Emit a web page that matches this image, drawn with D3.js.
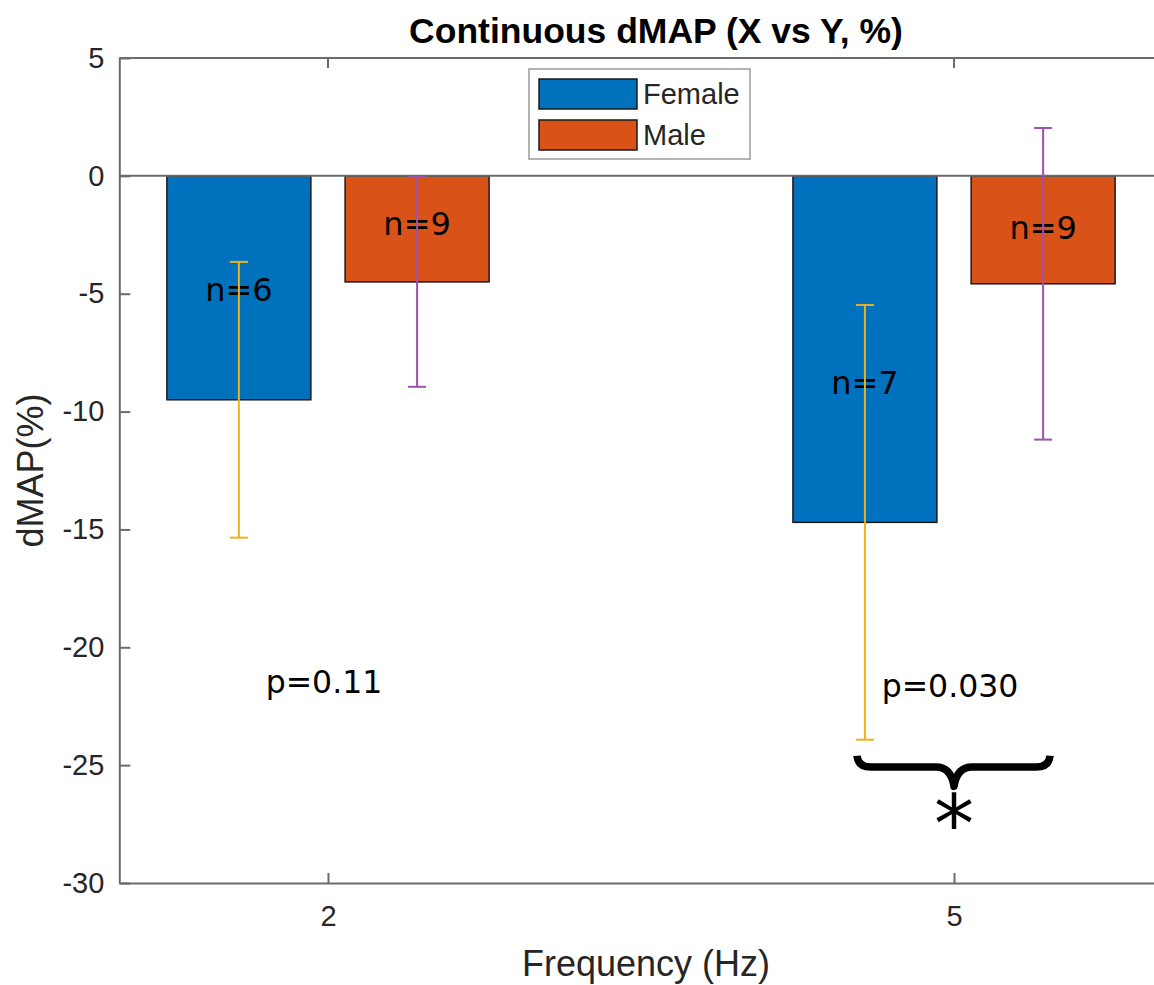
<!DOCTYPE html>
<html>
<head>
<meta charset="utf-8">
<script src="https://cdn.jsdelivr.net/npm/d3@7"></script>
<style>
  html, body { margin: 0; padding: 0; background: #fff; }
  svg { display: block; }
</style>
</head>
<body>
<svg id="chart" width="1154" height="985"></svg>
<script>
// ---------------- data ----------------
const frequencies = [2, 5];
const groups = ["Female", "Male"];
const femaleMeans = [-9.5, -14.7];
const maleMeans = [-4.5, -4.58];
const femaleErr = [5.85, 9.22];
const maleErr = [4.45, 6.61];
const femaleN = ["n=6", "n=7"];
const maleN = ["n=9", "n=9"];
const femaleLabelY = [-4.84, -8.78];
const maleLabelY = [-2.04, -2.17];
const pValues = ["p=0.11", "p=0.030"];
const pLabelY = [-21.47, -21.62];
const yTicks = [5, 0, -5, -10, -15, -20, -25, -30];
const xTicks = [2, 5];
const signifIndex = 1; // brace + asterisk under 5 Hz group
const braceSpan = [-0.465, 0.46];   // relative to group x (data units)
const braceY = [-24.6, -25.08, -25.9]; // ends, horizontal, tip
const asteriskY = -28.7;

// ---------------- layout ----------------
const colors = { Female: "#0072BD", Male: "#D95319" };
const errColors = { Female: "#EDB120", Male: "#9E52B0" };
const axisColor = "#6b6b6b";
const textColor = "#262626";

const svg = d3.select("#chart");
const x = d3.scaleLinear().domain([1, 6]).range([119.3, 1162.7]);
const y = d3.scaleLinear().domain([-30, 5]).range([883, 58]);

const barOffset = 0.427;  // data units
const barWidth = 0.69;    // data units
const capHalf = 9;        // px

const series = [
  { name: "Female", means: femaleMeans, err: femaleErr, n: femaleN, ly: femaleLabelY, off: -barOffset },
  { name: "Male", means: maleMeans, err: maleErr, n: maleN, ly: maleLabelY, off: barOffset }
];

// axes box lines
const [x0, x1] = x.range();
const [yb, yt] = y.range();
svg.append("line").attr("x1", x0).attr("x2", x1).attr("y1", yt).attr("y2", yt)
  .attr("stroke", axisColor).attr("stroke-width", 2);

// bars
series.forEach(s => {
  svg.append("g").selectAll("rect")
    .data(frequencies.map((f, i) => ({ f, v: s.means[i] })))
    .join("rect")
    .attr("x", d => x(d.f + s.off - barWidth / 2))
    .attr("width", d => x(d.f + s.off + barWidth / 2) - x(d.f + s.off - barWidth / 2))
    .attr("y", d => y(Math.max(0, d.v)))
    .attr("height", d => Math.abs(y(d.v) - y(0)))
    .attr("fill", colors[s.name])
    .attr("stroke", "#1a1a1a")
    .attr("stroke-width", 1.5);
});

// baseline at zero
svg.append("line").attr("x1", x0).attr("x2", x1).attr("y1", y(0)).attr("y2", y(0))
  .attr("stroke", axisColor).attr("stroke-width", 2);

// n labels
series.forEach(s => {
  svg.append("g").selectAll("text")
    .data(frequencies.map((f, i) => ({ f, t: s.n[i], ly: s.ly[i] })))
    .join("text")
    .attr("x", d => x(d.f + s.off))
    .attr("y", d => y(d.ly))
    .attr("dy", "0.36em")
    .attr("text-anchor", "middle")
    .attr("font-family", "DejaVu Sans")
    .attr("font-size", 32)
    .attr("fill", "#000")
    .text(d => d.t);
});

// error bars
series.forEach(s => {
  const g = svg.append("g").attr("stroke", errColors[s.name]).attr("stroke-width", 2).attr("fill", "none");
  frequencies.forEach((f, i) => {
    const cx = x(f + s.off);
    const hi = y(s.means[i] + s.err[i]);
    const lo = y(s.means[i] - s.err[i]);
    g.append("line").attr("x1", cx).attr("x2", cx).attr("y1", hi).attr("y2", lo);
    g.append("line").attr("x1", cx - capHalf).attr("x2", cx + capHalf).attr("y1", hi).attr("y2", hi);
    g.append("line").attr("x1", cx - capHalf).attr("x2", cx + capHalf).attr("y1", lo).attr("y2", lo);
  });
});

// p-value labels
svg.append("g").selectAll("text")
  .data(frequencies.map((f, i) => ({ f, t: pValues[i], py: pLabelY[i] })))
  .join("text")
  .attr("x", d => x(d.f) - 4)
  .attr("y", d => y(d.py))
  .attr("dy", "0.36em")
  .attr("text-anchor", "middle")
  .attr("font-family", "DejaVu Sans")
  .attr("font-size", 31.5)
  .attr("fill", "#000")
  .text(d => d.t);

// brace
{
  const gx = frequencies[signifIndex];
  const xl = x(gx + braceSpan[0]), xr = x(gx + braceSpan[1]), xm = x(gx);
  const yEnd = y(braceY[0]), yH = y(braceY[1]), yTip = y(braceY[2]);
  const p = d3.path();
  p.moveTo(xl, yEnd);
  p.quadraticCurveTo(xl + 1, yH, xl + 14, yH);
  p.lineTo(xm - 18, yH);
  p.quadraticCurveTo(xm - 3, yH, xm, yTip);
  p.quadraticCurveTo(xm + 3, yH, xm + 18, yH);
  p.lineTo(xr - 14, yH);
  p.quadraticCurveTo(xr - 1, yH, xr, yEnd);
  svg.append("path").attr("d", p.toString())
    .attr("fill", "none").attr("stroke", "#000").attr("stroke-width", 7.5)
    .attr("stroke-linejoin", "round").attr("stroke-linecap", "butt");
  svg.append("text")
    .attr("x", xm)
    .attr("y", y(asteriskY))
    .attr("text-anchor", "middle")
    .attr("font-family", "DejaVu Sans")
    .attr("font-size", 80)
    .attr("fill", "#000")
    .text("*");
}

// Y axis
const yAxis = d3.axisLeft(y).tickValues(yTicks).tickSize(0).tickPadding(15).tickFormat(d3.format("d"));
const yg = svg.append("g").attr("transform", `translate(${x0},0)`).call(yAxis);
yg.select(".domain").attr("stroke", axisColor).attr("stroke-width", 2);
yg.selectAll(".tick text").attr("font-family", "Liberation Sans, Arial, sans-serif")
  .attr("font-size", 29).attr("fill", textColor).text(d => d < 0 ? "-" + Math.abs(d) : d);
yg.selectAll(".tick").append("line").attr("x1", 0).attr("x2", 11)
  .attr("stroke", axisColor).attr("stroke-width", 2);

// X axis
const xAxis = d3.axisBottom(x).tickValues(xTicks).tickSize(0).tickPadding(22).tickFormat(d3.format("d"));
const xg = svg.append("g").attr("transform", `translate(0,${yb})`).call(xAxis);
xg.select(".domain").attr("stroke", axisColor).attr("stroke-width", 2);
xg.selectAll(".tick text").attr("font-family", "Liberation Sans, Arial, sans-serif")
  .attr("font-size", 29).attr("fill", textColor);
xg.selectAll(".tick").append("line").attr("y1", 0).attr("y2", -10)
  .attr("stroke", axisColor).attr("stroke-width", 2);
// top mirrored ticks
svg.append("g").selectAll("line").data(xTicks).join("line")
  .attr("x1", d => x(d)).attr("x2", d => x(d)).attr("y1", yt).attr("y2", yt + 10)
  .attr("stroke", axisColor).attr("stroke-width", 2);

// axis labels
svg.append("text")
  .attr("x", 646).attr("y", 976)
  .attr("text-anchor", "middle")
  .attr("font-family", "Liberation Sans, Arial, sans-serif")
  .attr("font-size", 36).attr("fill", textColor)
  .text("Frequency (Hz)");
svg.append("text")
  .attr("transform", `translate(43,${(y(-10) + y(-15)) / 2}) rotate(-90)`)
  .attr("text-anchor", "middle")
  .attr("font-family", "Liberation Sans, Arial, sans-serif")
  .attr("font-size", 36).attr("fill", textColor)
  .text("dMAP(%)");

// title
svg.append("text")
  .attr("x", 656).attr("y", 43)
  .attr("text-anchor", "middle")
  .attr("font-family", "Liberation Sans, Arial, sans-serif")
  .attr("font-weight", "bold")
  .attr("font-size", 35.5).attr("fill", "#000")
  .text("Continuous dMAP (X vs Y, %)");

// legend
{
  const lg = svg.append("g");
  lg.append("rect").attr("x", 529).attr("y", 69).attr("width", 221).attr("height", 90)
    .attr("fill", "#fff").attr("stroke", "#9a9a9a").attr("stroke-width", 1.5);
  groups.forEach((gname, i) => {
    const yy = 79 + i * 41;
    lg.append("rect").attr("x", 539).attr("y", yy).attr("width", 98).attr("height", 30)
      .attr("fill", colors[gname]).attr("stroke", "#1a1a1a").attr("stroke-width", 1.5);
    lg.append("text").attr("x", 643).attr("y", yy + 15).attr("dy", "0.36em")
      .attr("font-family", "Liberation Sans, Arial, sans-serif")
      .attr("font-size", 29).attr("fill", textColor).text(gname);
  });
}
</script>
</body>
</html>
